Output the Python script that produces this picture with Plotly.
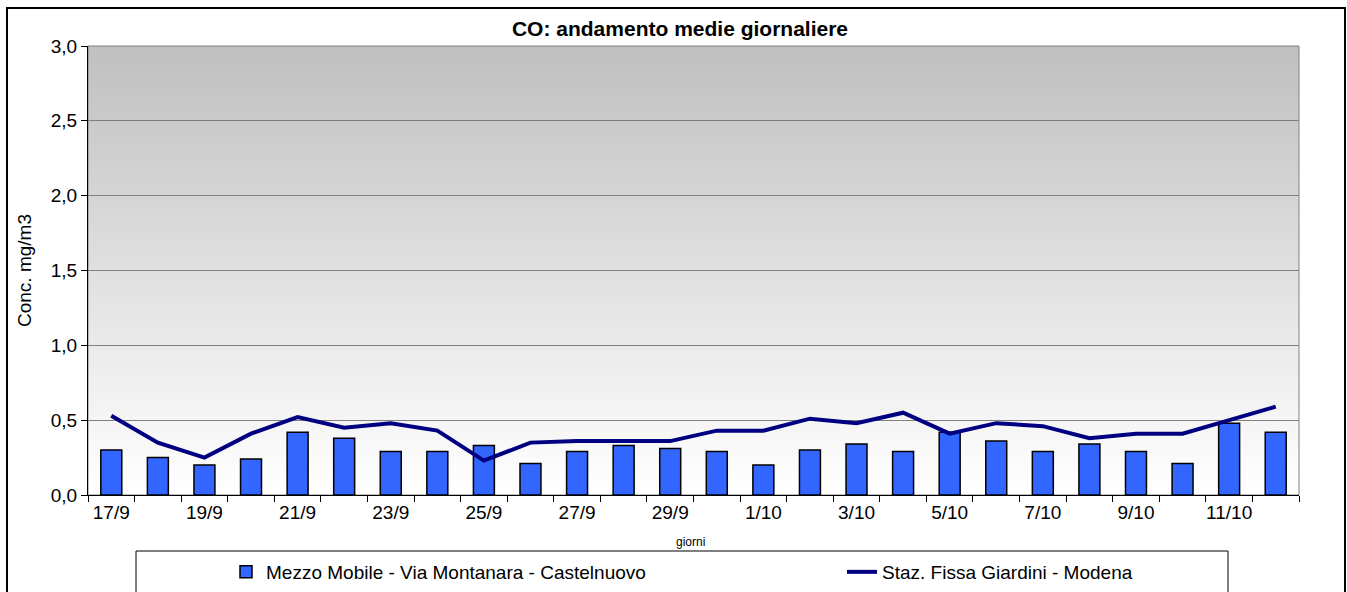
import plotly.graph_objects as go

days = ["17/9", "18/9", "19/9", "20/9", "21/9", "22/9", "23/9", "24/9", "25/9", "26/9",
        "27/9", "28/9", "29/9", "30/9", "1/10", "2/10", "3/10", "4/10", "5/10", "6/10",
        "7/10", "8/10", "9/10", "10/10", "11/10", "12/10"]
mezzo_mobile = [0.30, 0.25, 0.20, 0.24, 0.42, 0.38, 0.29, 0.29, 0.33, 0.21,
                0.29, 0.33, 0.31, 0.29, 0.20, 0.30, 0.34, 0.29, 0.42, 0.36,
                0.29, 0.34, 0.29, 0.21, 0.48, 0.42]
staz_fissa = [0.53, 0.35, 0.25, 0.41, 0.52, 0.45, 0.48, 0.43, 0.23, 0.35,
              0.36, 0.36, 0.36, 0.43, 0.43, 0.51, 0.48, 0.55, 0.41, 0.48,
              0.46, 0.38, 0.41, 0.41, 0.50, 0.59]
tick_labels = [d if i % 2 == 0 else "" for i, d in enumerate(days)]

FONT = "Liberation Sans, Arial, sans-serif"
W, H = 1347, 592
L, R, T, B = 88, 48, 46, 97
PW, PH = W - L - R, H - T - B

def px_x(p):
    return (p - L) / PW

def px_y(p):
    return (H - B - p) / PH

fig = go.Figure()
fig.add_trace(go.Bar(
    x=days, y=mezzo_mobile, name="Mezzo Mobile - Via Montanara - Castelnuovo",
    marker=dict(color="#3366ff", line=dict(color="black", width=1.5)),
    legend="legend",
))
fig.add_trace(go.Scatter(
    x=days, y=staz_fissa, name="Staz. Fissa Giardini - Modena", mode="lines",
    line=dict(color="#000080", width=4), legend="legend2",
))

shapes = []
# gradient background (grey at top to white at bottom)
n = 64
for i in range(n):
    c = int(round(255 - 63 * ((i + 0.5) / n)))
    shapes.append(dict(type="rect", xref="paper", yref="paper", x0=0, x1=1,
                       y0=i / n, y1=min(1, (i + 1) / n + 0.006), fillcolor=f"rgb({c},{c},{c})",
                       line=dict(width=0), layer="below"))
# plot frame (grey)
shapes.append(dict(type="rect", xref="paper", yref="paper", x0=0, x1=1, y0=0, y1=1,
                   line=dict(color="#808080", width=1), layer="below"))
# outer chart border
shapes.append(dict(type="rect", xref="paper", yref="paper",
                   x0=px_x(7), x1=px_x(1345), y0=px_y(620), y1=px_y(8),
                   line=dict(color="black", width=2)))
# legend box
shapes.append(dict(type="rect", xref="paper", yref="paper",
                   x0=px_x(136), x1=px_x(1228), y0=px_y(620), y1=px_y(551),
                   line=dict(color="black", width=1)))
fig.update_layout(shapes=shapes)

leg_common = dict(orientation="h", xref="container", yref="container", xanchor="left",
                  y=1 - 572 / H, yanchor="middle", bgcolor="rgba(0,0,0,0)",
                  font=dict(family=FONT, size=19))

fig.update_layout(
    width=W, height=H,
    margin=dict(l=L, r=R, t=T, b=B, autoexpand=False),
    paper_bgcolor="white", plot_bgcolor="rgba(0,0,0,0)",
    separators=",.",
    font=dict(family=FONT, size=19, color="black"),
    title=dict(text="<b>CO: andamento medie giornaliere</b>", x=680 / W, xanchor="center",
               y=1 - 29 / H, yanchor="middle", font=dict(family=FONT, size=21)),
    bargap=0.55,
    showlegend=True,
    legend=dict(x=226 / W, **leg_common),
    legend2=dict(x=842 / W, **leg_common),
    xaxis=dict(type="category", tickvals=days, ticktext=tick_labels, tickson="boundaries",
               tickangle=0, automargin=False,
               ticks="outside", ticklen=6, tickcolor="black", showline=True, linecolor="black",
               linewidth=1, showgrid=False, tickfont=dict(family=FONT, size=19),
               range=[-0.5, len(days) - 0.5]),
    yaxis=dict(range=[0, 3], dtick=0.5, tickformat=".1f", ticks="outside", ticklen=6,
               automargin=False,
               tickcolor="black", showline=True, linecolor="black", linewidth=1,
               showgrid=True, gridcolor="#808080", gridwidth=1, zeroline=False,
               tickfont=dict(family=FONT, size=19),
               title=dict(text="Conc. mg/m3", font=dict(family=FONT, size=19), standoff=14)),
    annotations=[dict(text="giorni", xref="paper", yref="paper", x=px_x(690), y=px_y(542),
                      xanchor="center", yanchor="middle", showarrow=False,
                      font=dict(family=FONT, size=12))],
)

fig.write_html("out.html", config={"displayModeBar": False},
               post_script="document.body.style.margin='0';document.body.style.overflow='hidden';")
